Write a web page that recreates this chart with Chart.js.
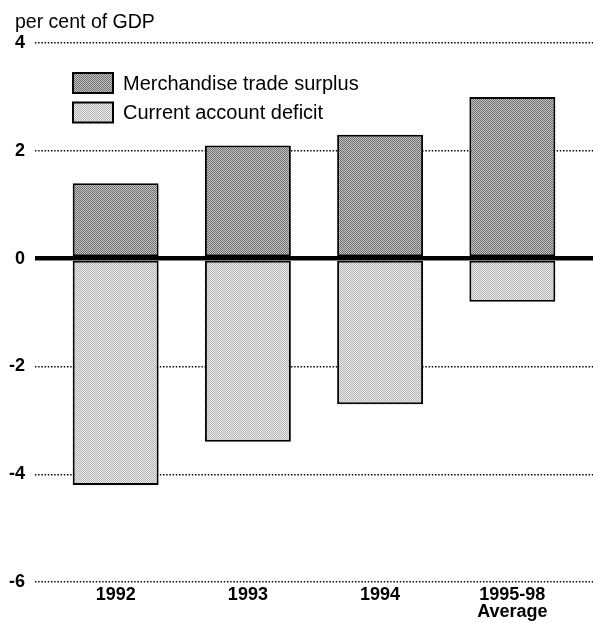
<!DOCTYPE html>
<html>
<head>
<meta charset="utf-8">
<script src="https://cdn.jsdelivr.net/npm/chart.js@4"></script>
<style>
  html, body { margin: 0; padding: 0; background: #fff; }
  #wrap { width: 593px; height: 623px; position: relative; }
</style>
</head>
<body>
<div id="wrap"><canvas id="trade-chart"></canvas></div>
<script>
// values (per cent of GDP)
const categories = ['1992', '1993', '1994', ['1995-98', 'Average']];
const tradeSurplus = [1.4, 2.1, 2.3, 3.0];
const currentAccountDeficit = [-4.2, -3.4, -2.7, -0.8];
const yTicks = [-6, -4, -2, 0, 2, 4];

const FONT = '"Liberation Sans", Arial, Helvetica, sans-serif';

// stippled fills like the printed original
function makeStipple(dark, light) {
  const c = document.createElement('canvas');
  c.width = 2; c.height = 2;
  const g = c.getContext('2d');
  g.fillStyle = light; g.fillRect(0, 0, 2, 2);
  g.fillStyle = dark; g.fillRect(0, 0, 1, 1); g.fillRect(1, 1, 1, 1);
  return g.createPattern(c, 'repeat');
}
const darkFill = makeStipple('#6e6e6e', '#c4c4c4');
const lightFill = makeStipple('#b4b4b4', '#ececec');

// title text above the axis
const unitTitle = {
  id: 'unitTitle',
  afterDraw(chart) {
    const ctx = chart.ctx;
    ctx.save();
    ctx.font = '19.5px ' + FONT;
    ctx.fillStyle = '#000';
    ctx.textBaseline = 'alphabetic';
    ctx.fillText('per cent of GDP', 15, 28);
    ctx.restore();
  }
};

// legend sitting inside the plot
const boxLegend = {
  id: 'boxLegend',
  afterDraw(chart) {
    const { ctx, chartArea } = chart;
    ctx.save();
    ctx.font = '20px ' + FONT;
    ctx.textBaseline = 'middle';
    chart.data.datasets.forEach((ds, i) => {
      const x = chartArea.left + 38;
      const y = chartArea.top + 30 + i * 29.5;
      ctx.fillStyle = ds.backgroundColor;
      ctx.fillRect(x, y, 40, 20);
      ctx.lineWidth = 2;
      ctx.strokeStyle = '#000';
      ctx.strokeRect(x, y, 40, 20);
      ctx.fillStyle = '#000';
      ctx.fillText(ds.label, x + 50, y + 11);
    });
    ctx.restore();
  }
};

const ctx = document.getElementById('trade-chart').getContext('2d');
window.tradeChart = new Chart(ctx, {
  type: 'bar',
  data: {
    datasets: [
      {
        label: 'Merchandise trade surplus',
        data: tradeSurplus.map((v, i) => ({ x: i, y: v })),
        backgroundColor: darkFill,
        borderColor: '#000',
        borderWidth: 2,
        borderSkipped: false,
        grouped: false,
        barPercentage: 0.65,
        categoryPercentage: 1
      },
      {
        label: 'Current account deficit',
        data: currentAccountDeficit.map((v, i) => ({ x: i, y: v })),
        backgroundColor: lightFill,
        borderColor: '#000',
        borderWidth: 2,
        borderSkipped: false,
        grouped: false,
        barPercentage: 0.65,
        categoryPercentage: 1
      }
    ]
  },
  options: {
    responsive: true,
    maintainAspectRatio: false,
    animation: false,
    layout: { padding: { top: 43, right: 0, bottom: 0, left: 0 } },
    plugins: {
      legend: { display: false },
      title: { display: false },
      tooltip: { enabled: false }
    },
    scales: {
      x: {
        type: 'linear',
        offset: false,
        min: -0.61,
        max: 3.61,
        afterBuildTicks: scale => {
          scale.ticks = categories.map((c, i) => ({ value: i }));
        },
        afterFit: scale => { scale.height = 41; },
        grid: { display: false, drawTicks: false, offset: false },
        border: { display: false },
        ticks: {
          padding: 4,
          color: '#000',
          autoSkip: false,
          maxRotation: 0,
          font: { family: FONT, size: 18, weight: 'bold', lineHeight: 0.95 },
          callback: value => categories[value]
        }
      },
      y: {
        min: -6,
        max: 4,
        afterBuildTicks: scale => {
          scale.ticks = yTicks.map(v => ({ value: v }));
        },
        afterFit: scale => { scale.width = 35; },
        grid: {
          drawTicks: false,
          color: '#000',
          lineWidth: c => (c.tick && c.tick.value === 0 ? 4.5 : 1.4)
        },
        border: {
          display: false,
          dash: c => (c.tick && c.tick.value === 0 ? [] : [1.4, 1.8])
        },
        ticks: {
          padding: 10,
          color: '#000',
          font: { family: FONT, size: 18, weight: 'bold' }
        }
      }
    }
  },
  plugins: [unitTitle, boxLegend]
});
</script>
</body>
</html>
